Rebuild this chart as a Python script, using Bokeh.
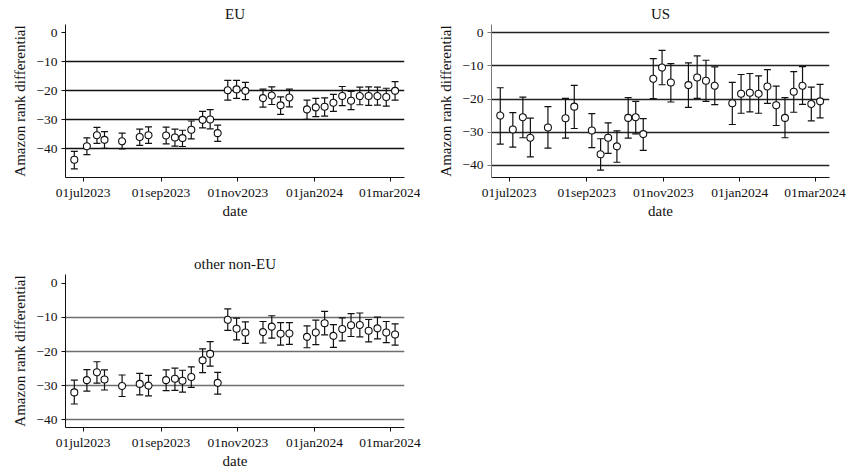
import datetime as dt
from bokeh.plotting import figure
from bokeh.layouts import column, row
from bokeh.models import FixedTicker, CustomJSTickFormatter, Range1d
from bokeh.embed import file_html
from bokeh.resources import INLINE

dates = ["2023-06-24", "2023-07-04", "2023-07-12", "2023-07-18", "2023-08-01", "2023-08-15",
         "2023-08-22", "2023-09-05", "2023-09-12", "2023-09-18", "2023-09-25", "2023-10-04",
         "2023-10-10", "2023-10-16", "2023-10-24", "2023-10-31", "2023-11-07", "2023-11-21",
         "2023-11-28", "2023-12-05", "2023-12-12", "2023-12-26", "2024-01-02", "2024-01-09",
         "2024-01-16", "2024-01-23", "2024-01-30", "2024-02-06", "2024-02-13", "2024-02-20",
         "2024-02-27", "2024-03-05"]

eu_mean = [-43.8, -39.1, -35.3, -36.9, -37.4, -35.9, -35.3, -35.4, -36.1, -36.3, -33.4, -30.0,
           -29.9, -34.6, -19.8, -19.5, -20.0, -22.5, -21.6, -25.0, -22.3, -26.4, -25.7, -25.5,
           -24.1, -21.8, -23.4, -21.8, -21.8, -21.8, -22.1, -20.0]
eu_hi = [-40.9, -36.2, -32.6, -34.1, -34.6, -33.2, -32.4, -32.5, -33.2, -33.6, -30.4, -27.1,
         -26.5, -31.8, -16.4, -16.4, -17.1, -19.4, -18.6, -22.1, -19.4, -23.2, -22.6, -22.4,
         -21.2, -18.5, -20.2, -18.7, -18.6, -18.7, -19.1, -16.8]
eu_lo = [-46.9, -42.0, -38.1, -39.8, -40.0, -38.8, -38.1, -38.3, -39.1, -39.2, -36.6, -32.8,
         -33.1, -37.4, -23.2, -22.6, -23.0, -25.6, -24.7, -28.1, -25.5, -29.8, -28.9, -28.7,
         -27.1, -25.1, -26.5, -24.8, -25.0, -24.9, -25.3, -23.2]

us_mean = [-25.0, -29.2, -25.5, -31.7, -28.6, -25.8, -22.3, -29.5, -36.7, -31.7, -34.3, -25.7,
           -25.5, -30.6, -13.9, -10.5, -15.0, -15.8, -13.5, -14.5, -16.0, -21.3, -18.4, -18.1,
           -18.4, -16.2, -21.9, -25.7, -17.8, -16.0, -21.5, -20.7]
us_hi = [-16.6, -24.1, -19.4, -25.8, -22.3, -19.8, -15.9, -24.4, -32.0, -27.2, -29.6, -19.6,
         -20.7, -25.9, -7.8, -5.3, -9.3, -9.1, -7.0, -8.3, -10.3, -15.0, -12.6, -12.3,
         -13.0, -11.1, -16.1, -19.6, -11.7, -10.2, -16.4, -15.6]
us_lo = [-33.6, -34.5, -31.7, -37.5, -34.8, -31.8, -28.9, -34.7, -41.5, -36.4, -39.1, -31.8,
         -30.5, -35.5, -19.9, -15.7, -20.9, -22.5, -19.8, -20.7, -21.7, -27.7, -24.3, -23.9,
         -24.3, -21.3, -28.0, -31.7, -24.0, -21.6, -26.6, -25.7]

ot_mean = [-32.0, -28.4, -26.1, -28.2, -30.1, -29.5, -30.0, -28.4, -28.0, -28.6, -27.5, -22.6,
           -20.7, -29.2, -10.7, -13.3, -14.4, -14.3, -12.7, -14.8, -14.7, -15.7, -14.4, -11.7,
           -15.4, -13.4, -12.3, -12.2, -13.9, -13.2, -14.4, -15.0]
ot_hi = [-28.4, -25.3, -23.0, -25.4, -26.9, -26.4, -27.0, -25.4, -24.9, -25.5, -24.5, -19.2,
         -17.1, -26.1, -7.5, -10.2, -11.3, -11.2, -9.5, -11.5, -11.5, -12.5, -10.8, -8.2,
         -12.1, -10.1, -8.9, -8.7, -10.6, -9.9, -11.2, -11.9]
ot_lo = [-35.4, -31.6, -29.3, -31.3, -33.2, -32.7, -33.0, -31.5, -31.4, -31.9, -30.5, -26.2,
         -24.3, -32.5, -13.8, -16.6, -17.6, -17.5, -16.1, -18.1, -17.9, -18.9, -18.0, -15.1,
         -18.8, -16.9, -15.6, -15.7, -17.2, -16.3, -17.4, -18.1]

x_tick_dates = ["2023-07-01", "2023-09-01", "2023-11-01", "2024-01-01", "2024-03-01"]
x_tick_labels = ["01jul2023", "01sep2023", "01nov2023", "01jan2024", "01mar2024"]
y_ticks = [0, -10, -20, -30, -40]

FONT = "Liberation Serif"


def to_dt(s):
    return dt.datetime.strptime(s, "%Y-%m-%d")


def to_ms(s):
    return (to_dt(s) - dt.datetime(1970, 1, 1)).total_seconds() * 1000.0


def panel(title, mean, hi, lo, yr, grid_ticks, width, height, bl, br, bt, bb,
          grid_color, yaxis_color):
    x = [to_dt(d) for d in dates]
    p = figure(x_axis_type="datetime", width=width, height=height,
               min_border_left=bl, min_border_right=br,
               min_border_top=bt, min_border_bottom=bb,
               output_backend="svg", toolbar_location=None,
               x_range=Range1d(to_dt("2023-06-17"), dt.datetime(2024, 3, 12, 12)),
               y_range=Range1d(*yr))
    p.outline_line_color = None
    p.background_fill_color = "white"
    p.title.text = title
    p.title.align = "center"
    p.title.text_font = FONT
    p.title.text_font_size = "15px"
    p.title.text_font_style = "normal"
    p.title.text_color = "#111111"
    p.title.standoff = 6

    p.xgrid.visible = False
    p.ygrid.ticker = FixedTicker(ticks=grid_ticks)
    p.ygrid.grid_line_color = grid_color
    p.ygrid.grid_line_width = 1.3

    p.xaxis.ticker = FixedTicker(ticks=[to_ms(d) for d in x_tick_dates])
    p.xaxis.formatter = CustomJSTickFormatter(args=dict(labels=x_tick_labels),
                                              code="return labels[index];")
    p.yaxis.ticker = FixedTicker(ticks=y_ticks)
    for ax in (p.xaxis[0], p.yaxis[0]):
        ax.major_label_text_font = FONT
        ax.major_label_text_font_size = "13.5px"
        ax.major_label_text_color = "#111111"
        ax.axis_label_text_font = FONT
        ax.axis_label_text_font_size = "15px"
        ax.axis_label_text_font_style = "normal"
        ax.axis_label_text_color = "#111111"
        ax.major_tick_in = 0
        ax.major_tick_out = 4
        ax.minor_tick_line_color = None
        ax.major_label_standoff = 3
        ax.major_tick_line_color = "#111111"
    p.yaxis.major_label_standoff = 4
    p.xaxis.axis_label_standoff = 0
    p.yaxis.axis_label_standoff = 5
    p.xaxis.axis_line_color = "#111111"
    p.yaxis.axis_line_color = yaxis_color
    p.yaxis.major_tick_line_color = yaxis_color
    p.xaxis.axis_label = "date"
    p.yaxis.axis_label = "Amazon rank differential"
    p.yaxis.major_label_orientation = "horizontal"

    p.segment(x0=x, y0=lo, x1=x, y1=hi, line_color="#111111", line_width=1.2)
    p.scatter(x=x + x, y=hi + lo, marker="dash", size=7, line_color="#111111", line_width=1.2)
    p.scatter(x=x, y=mean, marker="circle", size=7, fill_color="white",
              line_color="#111111", line_width=1.1)
    return p


# frames 339 x 153; page is laid out from the top-left corner
p_eu = panel("EU", eu_mean, eu_hi, eu_lo, (-49.9, 2.9), [-10, -20, -30, -40],
             420, 250, 65, 16, 24, 73, "#111111", "#111111")
p_us = panel("US", us_mean, us_hi, us_lo, (-43.7, 2.5), [0, -10, -20, -30, -40],
             429, 250, 71, 20, 24, 73, "#222222", "#777777")
p_ot = panel("other non-EU", ot_mean, ot_hi, ot_lo, (-42.3, 2.6), [-10, -20, -30, -40],
             430, 222, 65, 26, 24, 45, "#6e6e6e", "#111111")

layout = column(row(p_eu, p_us), p_ot)
open("out.html", "w").write(file_html(layout, INLINE))
